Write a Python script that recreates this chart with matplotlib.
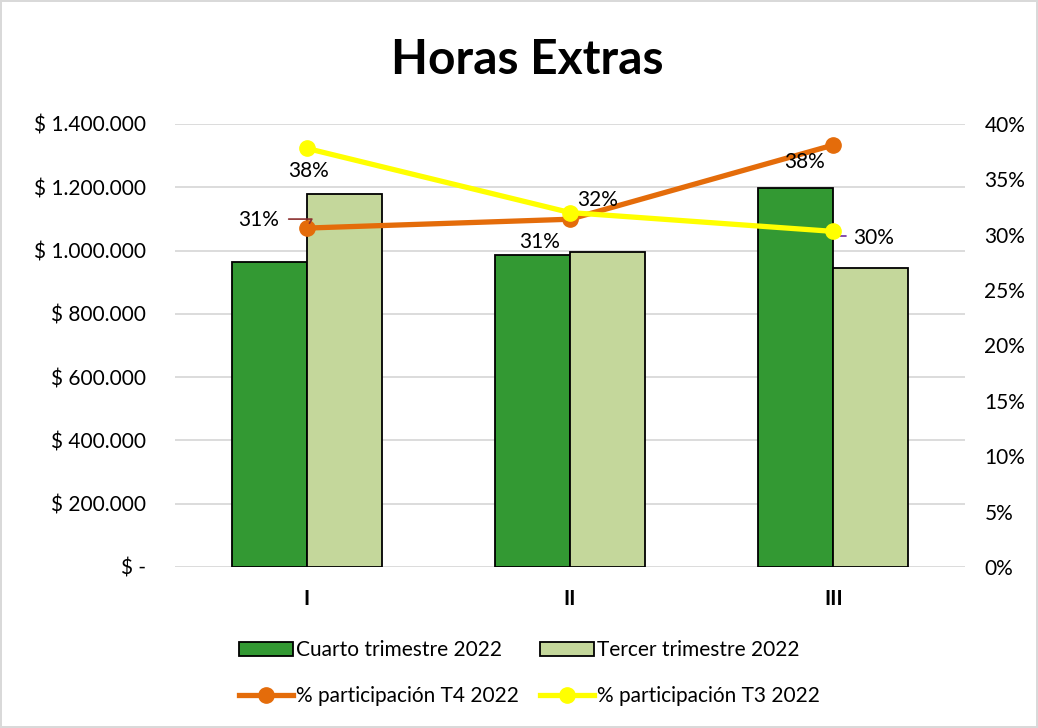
import numpy as np
import matplotlib.pyplot as plt
from matplotlib.ticker import FuncFormatter, PercentFormatter
from matplotlib.lines import Line2D
from matplotlib.patches import Patch

plt.rcParams['font.family'] = ['Lato', 'DejaVu Sans']

categorias = ['I', 'II', 'III']
cuarto_t4 = [963000, 986000, 1199000]
tercer_t3 = [1178000, 995000, 945000]
part_t4 = [0.306, 0.314, 0.381]
part_t3 = [0.378, 0.320, 0.303]

etiquetas_t4 = ['31%', '31%', '38%']
etiquetas_t3 = ['38%', '32%', '30%']

c_cuarto = '#339933'
c_tercer = '#C4D79B'
c_t4 = '#E46C0A'
c_t3 = '#FFFF00'

fs = 15


def pesos(v, pos):
    if v == 0:
        return '$ -'
    return '$ ' + f'{v:,.0f}'.replace(',', '.')


fig = plt.figure(figsize=(10.38, 7.28), dpi=100)
fig.patch.set_edgecolor('#D9D9D9')
fig.patch.set_linewidth(1.5)
ax = fig.add_axes([0.1686, 0.2212, 0.7611, 0.6085])

x = np.arange(len(categorias))
w = 0.285
ax.bar(x - w / 2, cuarto_t4, w, color=c_cuarto, edgecolor='black', linewidth=1.3, label='Cuarto trimestre 2022')
ax.bar(x + w / 2, tercer_t3, w, color=c_tercer, edgecolor='black', linewidth=1.3, label='Tercer trimestre 2022')

ax.set_ylim(0, 1400000)
ax.set_yticks(np.arange(0, 1400001, 200000))
ax.yaxis.set_major_formatter(FuncFormatter(pesos))
ax.set_xlim(-0.5, 2.5)
ax.set_xticks(x)
ax.set_xticklabels(categorias, fontweight='bold')
ax.grid(axis='y', color='#D9D9D9', linewidth=1.3)
ax.set_axisbelow(True)
for s in ax.spines.values():
    s.set_visible(False)
ax.tick_params(axis='both', length=0, labelsize=fs)
ax.tick_params(axis='y', pad=21)
ax.tick_params(axis='x', pad=16)

ax2 = ax.twinx()
ax2.set_ylim(0, 0.40)
ax2.set_yticks(np.arange(0, 0.401, 0.05))
ax2.yaxis.set_major_formatter(PercentFormatter(1.0, decimals=0))
for s in ax2.spines.values():
    s.set_visible(False)
ax2.tick_params(axis='y', length=0, labelsize=fs, pad=14)

ax2.plot(x, part_t4, color=c_t4, linewidth=3.8, marker='o', markersize=11, label='% participación T4 2022', zorder=3)
ax2.plot(x, part_t3, color=c_t3, linewidth=3.8, marker='o', markersize=11, label='% participación T3 2022', zorder=4)

# posiciones de etiquetas (offset en pixeles)
off_t4 = [(-48, 8), (-30, -23), (-29, -17)]
off_t3 = [(2, -23), (28, 13), (40, -7)]
for i in range(len(x)):
    ax2.annotate(etiquetas_t4[i], (x[i], part_t4[i]), xytext=off_t4[i], textcoords='offset pixels',
                 ha='center', va='center', fontsize=fs, zorder=5)
    ax2.annotate(etiquetas_t3[i], (x[i], part_t3[i]), xytext=off_t3[i], textcoords='offset pixels',
                 ha='center', va='center', fontsize=fs, zorder=5)

# lineas guia
ax2.annotate('', (x[0], part_t4[0]), xytext=(-18, 9), textcoords='offset pixels',
             arrowprops=dict(arrowstyle='-', color='#8B2F2F', lw=1.2, shrinkA=0, shrinkB=4,
                             connectionstyle='angle,angleA=0,angleB=60,rad=0'))
ax2.annotate('', (x[2], part_t3[2]), xytext=(13, -5), textcoords='offset pixels',
             arrowprops=dict(arrowstyle='-', color='#7030A0', lw=1.2, shrinkA=0, shrinkB=0,
                             connectionstyle='angle,angleA=0,angleB=90,rad=0'))

fig.text(0.508, 0.918, 'Horas Extras', ha='center', va='center', fontsize=34.5, fontweight='bold')

handles = [Patch(facecolor=c_cuarto, edgecolor='black', linewidth=1.3),
           Line2D([], [], color=c_t4, linewidth=3.8, marker='o', markersize=11),
           Patch(facecolor=c_tercer, edgecolor='black', linewidth=1.3),
           Line2D([], [], color=c_t3, linewidth=3.8, marker='o', markersize=11)]
labels = ['Cuarto trimestre 2022', '% participación T4 2022',
          'Tercer trimestre 2022', '% participación T3 2022']
fig.legend(handles, labels, ncol=2, loc='center', bbox_to_anchor=(0.51, 0.075),
           frameon=False, fontsize=fs, handlelength=2.6, handletextpad=0.15,
           columnspacing=1.0, labelspacing=1.25)

fig.savefig('out.png', dpi=100)
